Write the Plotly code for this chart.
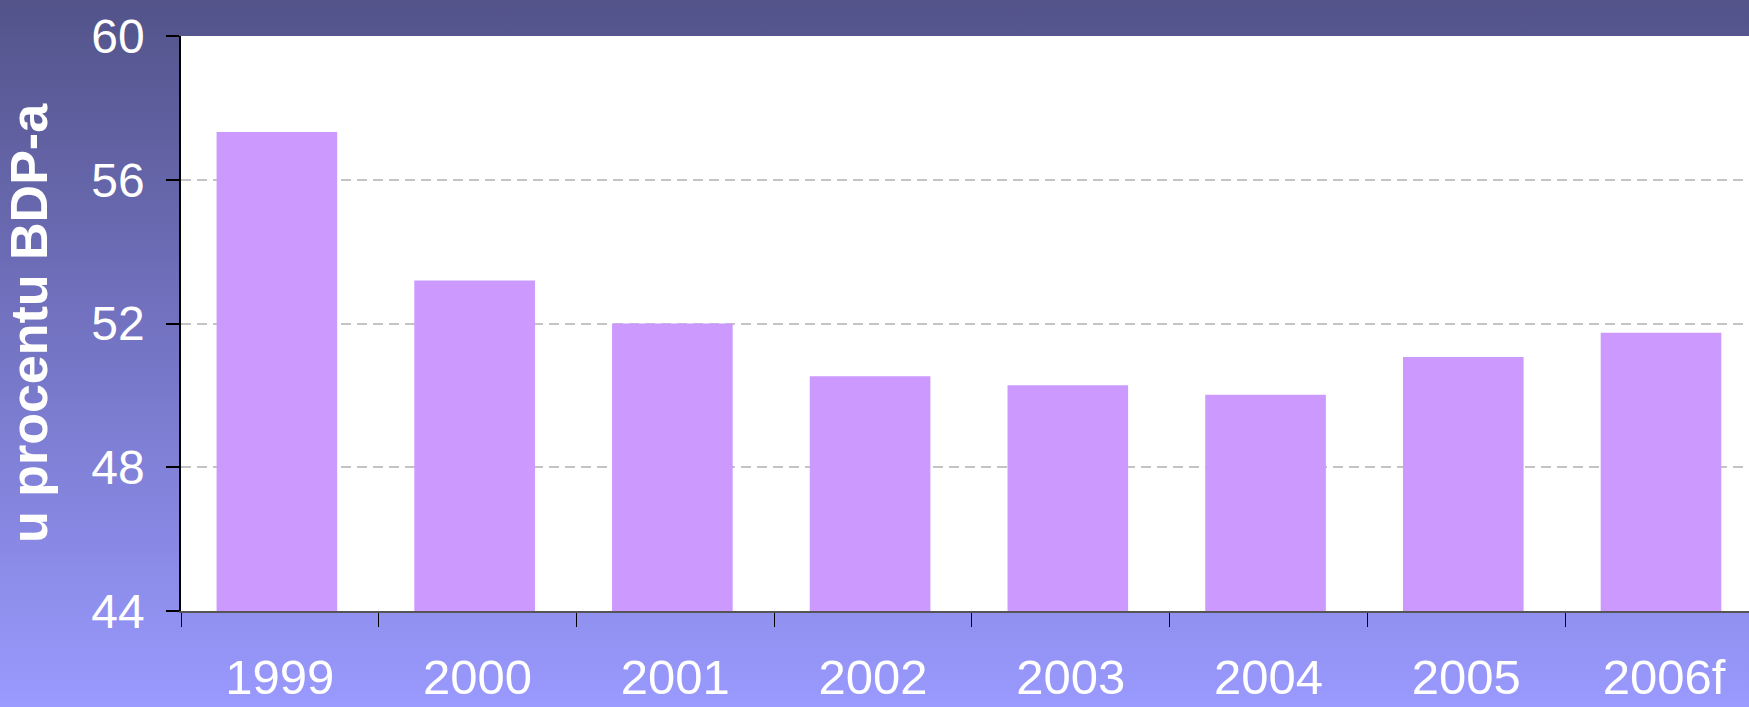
import base64
import plotly.graph_objects as go

# ---- data ----
years = ["1999", "2000", "2001", "2002", "2003", "2004", "2005", "2006f"]
values = [57.33, 53.2, 52.0, 50.53, 50.28, 50.02, 51.07, 51.74]
y_ticks = [44, 48, 52, 56, 60]
y_title = "u procentu BDP-a"

W, H = 1749, 707
ML, MR, MT, MB = 181, 0, 36, 96

# background gradient (decoration)
svg = (
    f"<svg xmlns='http://www.w3.org/2000/svg' width='{W}' height='{H}' preserveAspectRatio='none'>"
    "<defs><linearGradient id='g' x1='0' y1='0' x2='0' y2='1'>"
    "<stop offset='0' stop-color='#53538A'/>"
    "<stop offset='0.5' stop-color='#7575C6'/>"
    "<stop offset='1' stop-color='#9A9AFF'/>"
    "</linearGradient></defs>"
    "<rect x='0' y='0' width='100%' height='100%' fill='url(#g)'/></svg>"
)
src = "data:image/svg+xml;base64," + base64.b64encode(svg.encode()).decode()

pw = W - ML - MR
ph = H - MT - MB

fig = go.Figure()
fig.add_trace(go.Bar(
    x=years, y=values,
    marker=dict(color="#CC99FF", line=dict(width=0)),
    width=0.61, offset=-0.32,
))

fig.update_layout(
    width=W, height=H,
    margin=dict(l=ML, r=MR, t=MT, b=MB, pad=0, autoexpand=False),
    paper_bgcolor="#7575C6",
    plot_bgcolor="white",
    showlegend=False,
    images=[dict(
        source=src, xref="paper", yref="paper",
        x=-ML / pw, y=1 + MT / ph, sizex=W / pw, sizey=H / ph,
        xanchor="left", yanchor="top", sizing="stretch", layer="below",
    )],
    shapes=[dict(
        type="rect", xref="paper", yref="paper", x0=0, x1=1, y0=0, y1=1,
        fillcolor="white", line=dict(width=0), layer="below",
    )],
    font=dict(family="Liberation Sans, Arial, sans-serif", color="white"),
)

fig.update_xaxes(
    type="category",
    range=[-0.5, 7.43],
    automargin=False,
    tickson="boundaries",
    ticks="outside", ticklen=14, tickcolor="black", tickwidth=1.2,
    showline=True, linecolor="#555555", linewidth=1.5,
    showgrid=False,
    tickfont=dict(family="Liberation Sans Narrow, Liberation Sans, Arial", size=49, color="white"),
    ticklabelstandoff=22,
)

fig.update_yaxes(
    range=[44, 60],
    automargin=False,
    tickvals=y_ticks,
    ticks="outside", ticklen=13, tickcolor="black", tickwidth=1.5,
    showline=True, linecolor="black", linewidth=1.5,
    showgrid=True, gridcolor="#C4C4C4", gridwidth=1.5, griddash="10px,6px",
    zeroline=False,
    tickfont=dict(family="Liberation Sans, Arial", size=48, color="white"),
    ticklabelstandoff=12,
    title=dict(text=y_title, font=dict(family="Liberation Sans, Arial", size=52, color="white", weight="bold"), standoff=38),
)

fig.write_html(
    "out.html",
    config={"displayModeBar": False},
    post_script="document.body.style.margin='0';document.body.style.overflow='hidden';",
)
